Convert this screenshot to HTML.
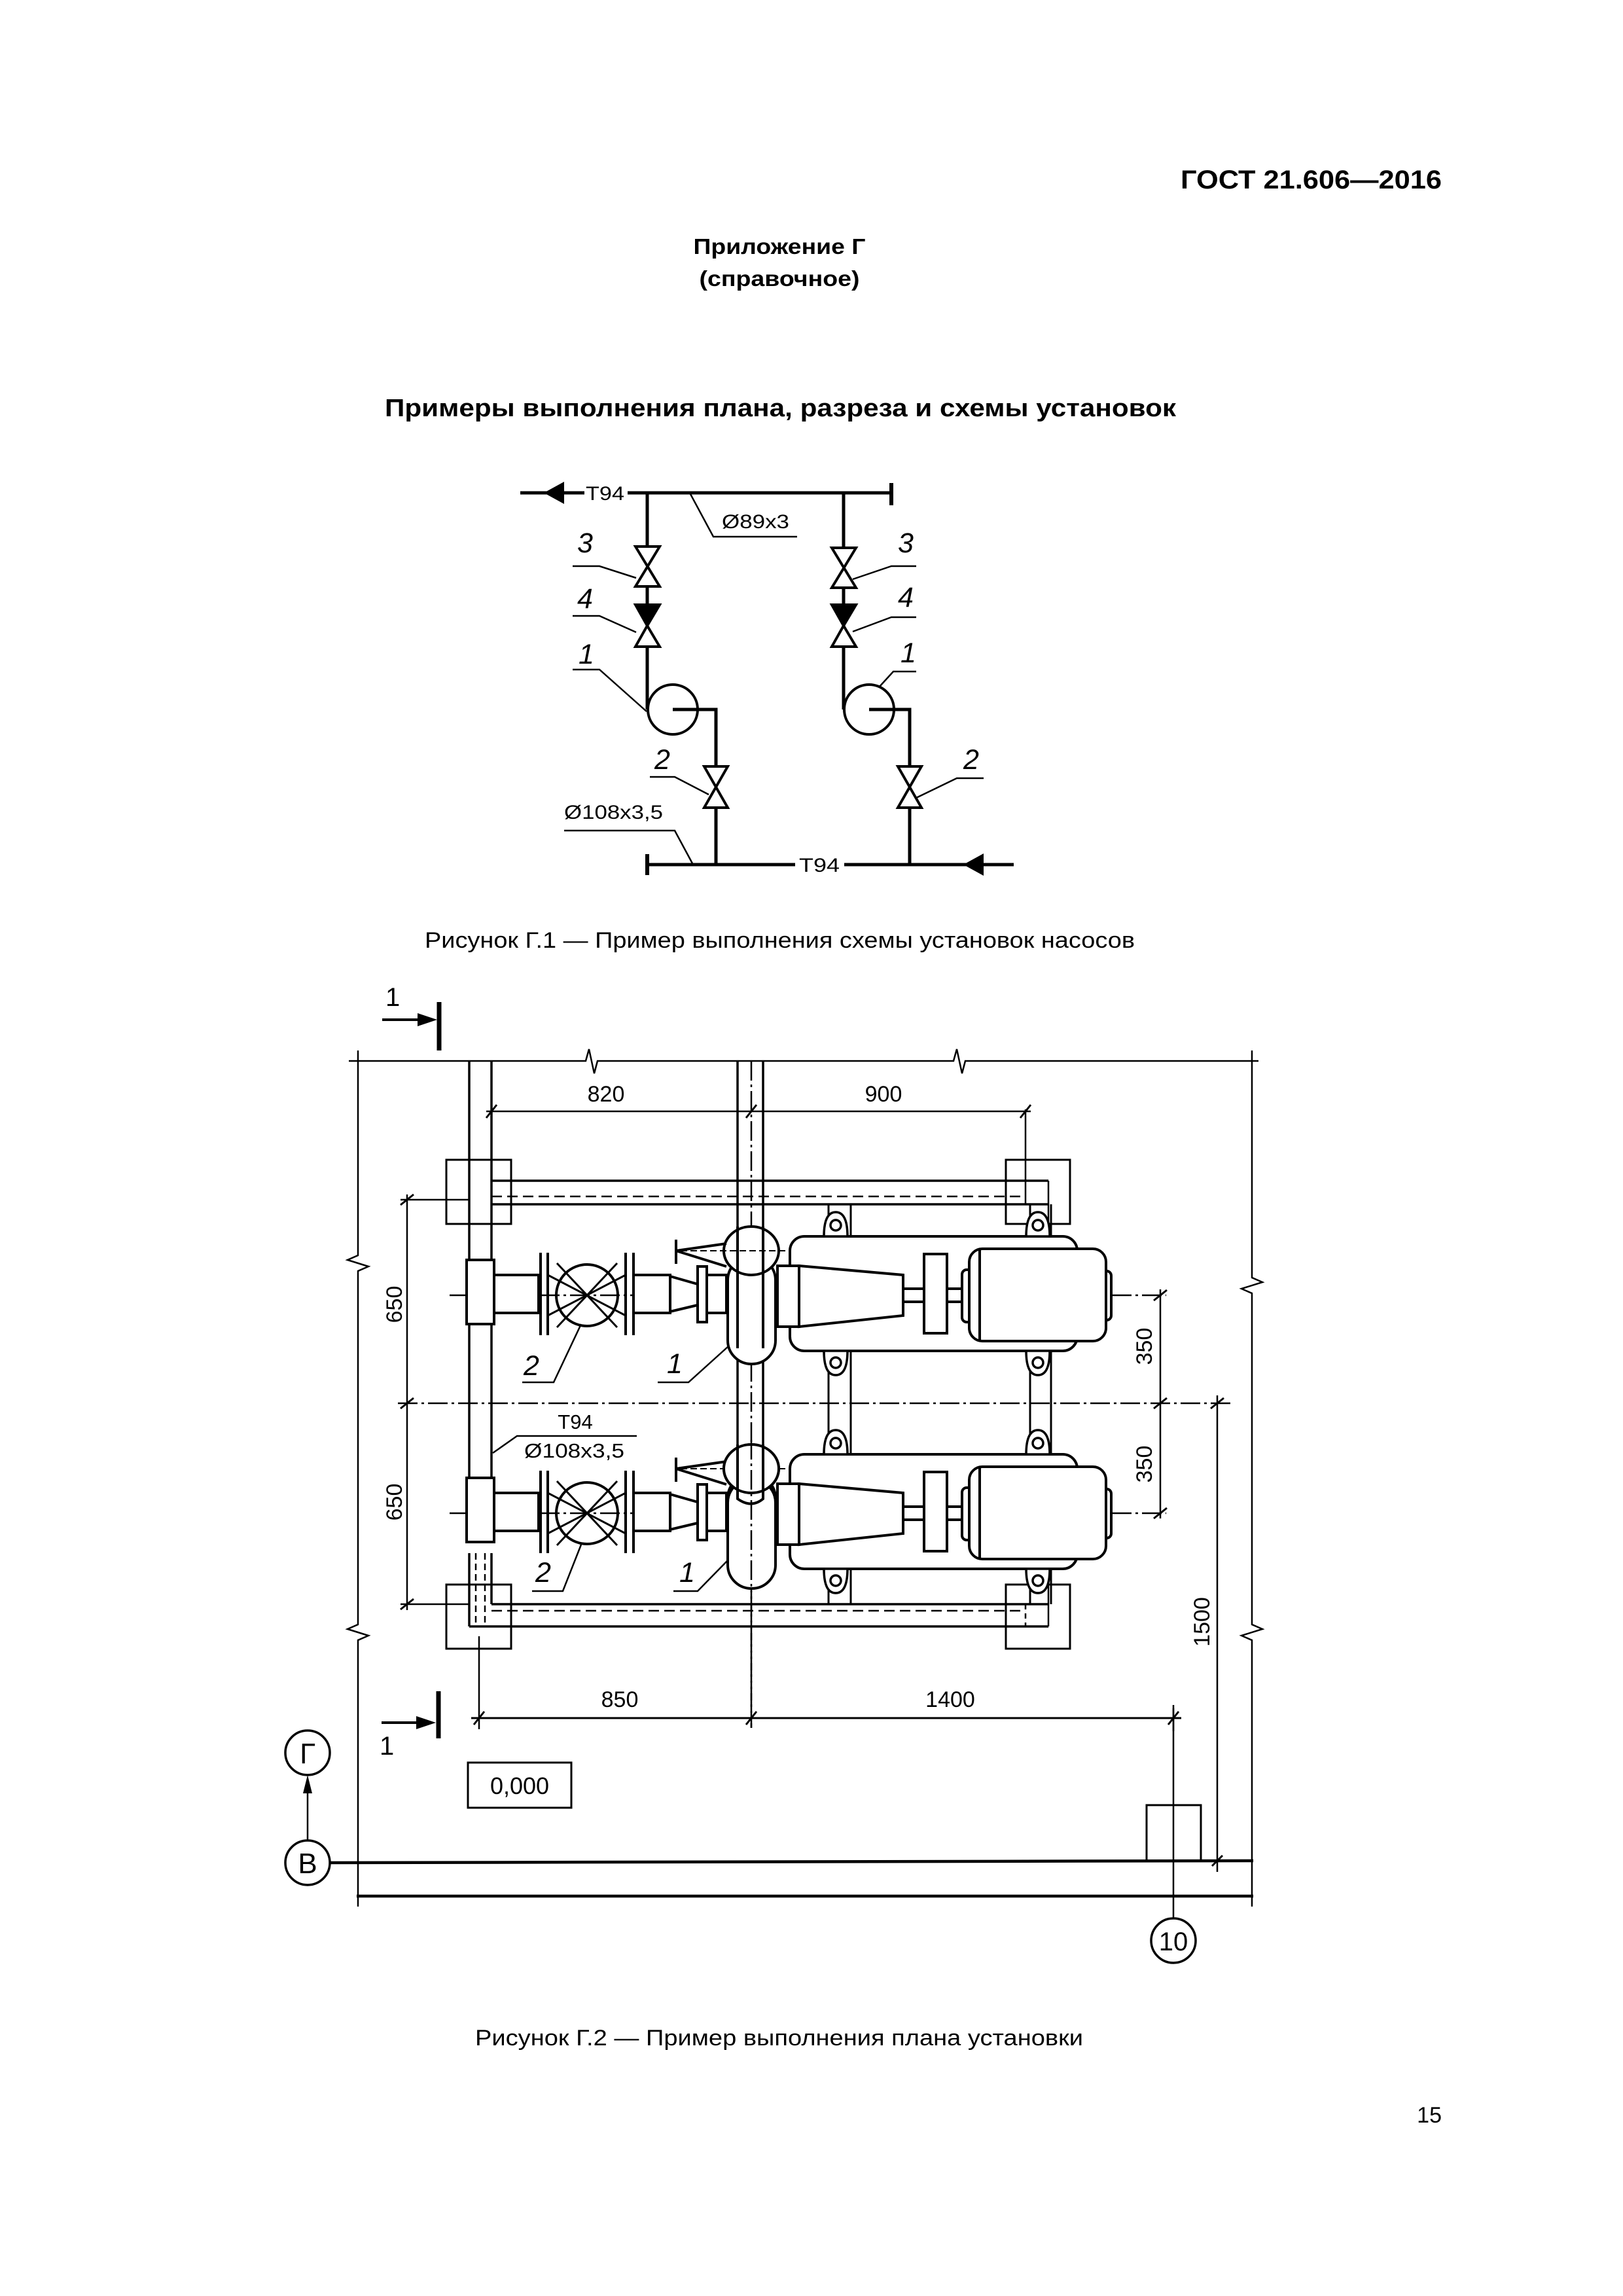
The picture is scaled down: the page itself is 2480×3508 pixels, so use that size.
<!DOCTYPE html>
<html><head><meta charset="utf-8"><style>
html,body{margin:0;padding:0;background:#fff}
svg{display:block}
text{font-family:"Liberation Sans",sans-serif;fill:#000}
</style></head><body>
<svg width="2480" height="3508" viewBox="0 0 2480 3508" xmlns="http://www.w3.org/2000/svg">
<!-- Header -->
<text x="2203" y="288" font-size="40" font-weight="bold" text-anchor="end" textLength="399" lengthAdjust="spacingAndGlyphs">ГОСТ 21.606—2016</text>
<text x="1191" y="388" font-size="33" font-weight="bold" text-anchor="middle" textLength="263" lengthAdjust="spacingAndGlyphs">Приложение Г</text>
<text x="1191" y="437" font-size="33" font-weight="bold" text-anchor="middle" textLength="245" lengthAdjust="spacingAndGlyphs">(справочное)</text>
<text x="588" y="636" font-size="38" font-weight="bold" textLength="1209" lengthAdjust="spacingAndGlyphs">Примеры выполнения плана, разреза и схемы установок</text>

<!-- Figure G.1 -->
<g stroke="#000" fill="none" stroke-width="5">
 <line x1="795" y1="753" x2="893" y2="753"/>
 <line x1="959" y1="753" x2="1362" y2="753"/>
 <line x1="1362" y1="738" x2="1362" y2="772" stroke-width="6"/>
 <line x1="989" y1="753" x2="989" y2="835"/>
 <line x1="989" y1="896" x2="989" y2="924"/>
 <line x1="989" y1="988" x2="989" y2="1084"/>
 <line x1="1289" y1="753" x2="1289" y2="837"/>
 <line x1="1289" y1="898" x2="1289" y2="924"/>
 <line x1="1289" y1="988" x2="1289" y2="1084"/>
 <circle cx="1028" cy="1084" r="38" stroke-width="4"/>
 <circle cx="1328" cy="1084" r="38" stroke-width="4"/>
 <polyline points="1028,1084 1094,1084 1094,1171"/>
 <polyline points="1328,1084 1390,1084 1390,1171"/>
 <line x1="1094" y1="1234" x2="1094" y2="1321"/>
 <line x1="1390" y1="1234" x2="1390" y2="1321"/>
 <line x1="989" y1="1321" x2="1215" y2="1321"/>
 <line x1="1290" y1="1321" x2="1549" y2="1321"/>
 <line x1="989" y1="1305" x2="989" y2="1337" stroke-width="6"/>
</g>
<polygon points="831,753 862,736 862,770" fill="#000"/>
<polygon points="1472,1321 1503,1304 1503,1338" fill="#000"/>
<g stroke="#000" stroke-width="4" fill="#fff" stroke-linejoin="miter">
 <polygon points="971,835 1008,835 971,896 1008,896"/>
 <polygon points="971,924 1008,924 989,956" fill="#000"/>
 <polygon points="989,956 971,988 1008,988"/>
 <polygon points="1271,837 1308,837 1271,898 1308,898"/>
 <polygon points="1271,924 1308,924 1289,956" fill="#000"/>
 <polygon points="1289,956 1271,988 1308,988"/>
 <polygon points="1076,1171 1112,1171 1076,1234 1112,1234"/>
 <polygon points="1372,1171 1408,1171 1372,1234 1408,1234"/>
</g>
<g stroke="#000" stroke-width="2.5" fill="none">
 <polyline points="1054,753 1090,820 1218,820"/>
 <polyline points="875,865 916,865 972,883"/>
 <polyline points="875,941 916,941 972,966"/>
 <polyline points="875,1023 916,1023 988,1087"/>
 <polyline points="993,1187 1031,1187 1083,1214"/>
 <polyline points="1400,865 1362,865 1303,885"/>
 <polyline points="1400,943 1362,943 1303,965"/>
 <polyline points="1400,1026 1365,1026 1344,1049"/>
 <polyline points="1503,1189 1462,1189 1400,1219"/>
 <polyline points="862,1269 1031,1269 1059,1321"/>
</g>
<g font-size="30">
 <text x="895" y="764" textLength="59" lengthAdjust="spacingAndGlyphs">Т94</text>
 <text x="1221" y="1332" textLength="62" lengthAdjust="spacingAndGlyphs">Т94</text>
 <text x="1103" y="807" textLength="103" lengthAdjust="spacingAndGlyphs">Ø89x3</text>
 <text x="862" y="1251" textLength="151" lengthAdjust="spacingAndGlyphs">Ø108x3,5</text>
</g>
<g font-size="43" font-style="italic">
 <text x="882" y="844">3</text><text x="882" y="929">4</text><text x="884" y="1014">1</text>
 <text x="1000" y="1175">2</text>
 <text x="1372" y="844">3</text><text x="1372" y="927">4</text><text x="1376" y="1012">1</text>
 <text x="1472" y="1175">2</text>
</g>
<text x="649" y="1448" font-size="34" textLength="1085" lengthAdjust="spacingAndGlyphs">Рисунок Г.1 — Пример выполнения схемы установок насосов</text>

<!-- Figure G.2 -->
<text x="589" y="1537" font-size="40">1</text>
<line x1="584" y1="1558" x2="640" y2="1558" stroke="#000" stroke-width="4"/>
<polygon points="668,1558 638,1548 638,1568" fill="#000"/>
<line x1="671" y1="1531" x2="671" y2="1605" stroke="#000" stroke-width="7"/>
<line x1="583" y1="2632" x2="640" y2="2632" stroke="#000" stroke-width="4"/>
<polygon points="666,2632 636,2622 636,2642" fill="#000"/>
<line x1="670" y1="2584" x2="670" y2="2656" stroke="#000" stroke-width="7"/>
<text x="580" y="2681" font-size="40">1</text>

<g stroke="#000" fill="none" stroke-width="2.5">
 <polyline points="533,1621 895,1621 900,1603 908,1640 913,1621 1457,1621 1462,1603 1470,1640 1475,1621 1923,1621"/>
 <polyline points="547,1605 547,1918 531,1925 563,1935 547,1942 547,2482 531,2489 563,2499 547,2506 547,2913"/>
 <polyline points="1913,1605 1913,1952 1929,1959 1897,1969 1913,1976 1913,2482 1929,2489 1897,2499 1913,2506 1913,2913"/>
 <line x1="545" y1="2897" x2="1915" y2="2897" stroke-width="4.5"/>
 <line x1="504" y1="2846" x2="1915" y2="2843" stroke-width="4.5"/>
 <circle cx="470" cy="2678" r="34" stroke-width="3.5"/>
 <circle cx="470" cy="2846" r="34" stroke-width="3.5"/>
 <line x1="470" y1="2812" x2="470" y2="2725"/>
 <circle cx="1793" cy="2965" r="34" stroke-width="3.5"/>
 <line x1="1793" y1="2931" x2="1793" y2="2605"/>
 <rect x="1752" y="2758" width="83" height="85" stroke-width="3"/>
 <rect x="715" y="2693" width="158" height="69" stroke-width="3"/>
 <line x1="720" y1="2625" x2="1805" y2="2625" stroke-width="3"/>
 <line x1="732" y1="2500" x2="732" y2="2642"/>
 <line x1="1793" y1="2610" x2="1793" y2="2645"/>
 <line x1="1860" y1="2132" x2="1860" y2="2860"/>
 <line x1="751" y1="1804" x2="1602" y2="1804" stroke-width="3.5"/>
 <line x1="751" y1="1840" x2="1602" y2="1840" stroke-width="3.5"/>
 <line x1="751" y1="1828" x2="1567" y2="1828" stroke-dasharray="16,8"/>
 <line x1="751" y1="2451" x2="1602" y2="2451" stroke-width="3.5"/>
 <line x1="717" y1="2485" x2="1602" y2="2485" stroke-width="3.5"/>
 <line x1="751" y1="2461" x2="1567" y2="2461" stroke-dasharray="16,8"/>
 <rect x="682" y="1772" width="99" height="98" stroke-width="3"/>
 <rect x="1537" y="1772" width="98" height="98" stroke-width="3"/>
 <rect x="682" y="2421" width="99" height="98" stroke-width="3"/>
 <rect x="1537" y="2421" width="98" height="98" stroke-width="3"/>
 <line x1="1567" y1="1695" x2="1567" y2="1840"/>
 <line x1="1567" y1="2451" x2="1567" y2="2485" stroke-dasharray="8,6"/>
 <line x1="1602" y1="1804" x2="1602" y2="1870"/>
 <line x1="1602" y1="2421" x2="1602" y2="2485"/>
 <line x1="717" y1="1621" x2="717" y2="1925" stroke-width="3.5"/>
 <line x1="751" y1="1621" x2="751" y2="1925" stroke-width="3.5"/>
 <line x1="717" y1="2023" x2="717" y2="2261" stroke-width="3.5"/>
 <line x1="751" y1="2023" x2="751" y2="2261" stroke-width="3.5"/>
 <line x1="717" y1="2373" x2="717" y2="2485" stroke-width="3.5"/>
 <line x1="727" y1="2373" x2="727" y2="2485" stroke-dasharray="10,6"/>
 <line x1="741" y1="2373" x2="741" y2="2485" stroke-dasharray="10,6"/>
 <line x1="751" y1="2373" x2="751" y2="2451" stroke-width="3.5"/>
 <line x1="1127" y1="1621" x2="1127" y2="2290" stroke-width="3.5"/>
 <line x1="1166" y1="1621" x2="1166" y2="2290" stroke-width="3.5"/>
 <line x1="1148" y1="1621" x2="1148" y2="2640" stroke-dasharray="30,6,4,6"/>
 <line x1="743" y1="1698" x2="1575" y2="1698"/>
 <line x1="622" y1="1825" x2="622" y2="2460"/>
 <line x1="612" y1="1833" x2="717" y2="1833"/>
 <line x1="612" y1="2451" x2="717" y2="2451"/>
 <line x1="608" y1="2144" x2="1880" y2="2144" stroke-dasharray="30,6,4,6"/>
 <line x1="1773" y1="1970" x2="1773" y2="2320"/>
 <line x1="687" y1="1979" x2="1782" y2="1979" stroke-dasharray="30,6,4,6"/>
 <line x1="687" y1="2312" x2="1782" y2="2312" stroke-dasharray="30,6,4,6"/>
 <g stroke-width="3">
  <line x1="743" y1="1708" x2="759" y2="1688"/><line x1="1140" y1="1708" x2="1156" y2="1688"/><line x1="1559" y1="1708" x2="1575" y2="1688"/>
  <line x1="612" y1="1841" x2="632" y2="1825"/><line x1="612" y1="2152" x2="632" y2="2136"/><line x1="612" y1="2459" x2="632" y2="2443"/>
  <line x1="1763" y1="1987" x2="1783" y2="1971"/><line x1="1763" y1="2152" x2="1783" y2="2136"/><line x1="1763" y1="2320" x2="1783" y2="2304"/>
  <line x1="1850" y1="2152" x2="1870" y2="2136"/><line x1="1852" y1="2851" x2="1868" y2="2835"/>
  <line x1="724" y1="2635" x2="740" y2="2615"/><line x1="1140" y1="2635" x2="1156" y2="2615"/><line x1="1785" y1="2635" x2="1801" y2="2615"/>
 </g>
 <line x1="1266" y1="1840" x2="1266" y2="2451" stroke-width="3"/>
 <line x1="1300" y1="1840" x2="1300" y2="2451" stroke-width="3"/>
 <line x1="1574" y1="1840" x2="1574" y2="2451" stroke-width="3"/>
 <line x1="1606" y1="1840" x2="1606" y2="2451" stroke-width="3"/>
</g>
<polygon points="470,2712 463,2740 477,2740" fill="#000"/>

<defs>
<g id="unit">
 <g stroke="#000" stroke-width="4" fill="#fff">
  <rect x="1207" y="1889" width="439" height="175" rx="22"/>
  <rect x="713" y="1925" width="42" height="98"/>
  <rect x="755" y="1948" width="68" height="58"/>
  <rect x="968" y="1948" width="56" height="58"/>
  <polygon points="1024,1950 1066,1962 1066,1994 1024,2004"/>
  <rect x="1066" y="1935" width="14" height="85"/>
  <rect x="1080" y="1948" width="30" height="58"/>
  <rect x="1188" y="1934" width="33" height="93"/>
  <polygon points="1221,1934 1380,1948 1380,2010 1221,2027"/>
  <rect x="1380" y="1969" width="32" height="20"/>
  <rect x="1412" y="1916" width="35" height="121"/>
  <rect x="1447" y="1969" width="34" height="20"/>
  <rect x="1470" y="1940" width="16" height="80" rx="7"/>
  <rect x="1682" y="1942" width="16" height="75" rx="7"/>
  <rect x="1481" y="1908" width="209" height="141" rx="20"/>
  <line x1="1497" y1="1910" x2="1497" y2="2047"/>
  <line x1="826" y1="1914" x2="826" y2="2040"/><line x1="837" y1="1914" x2="837" y2="2040"/>
  <line x1="956" y1="1914" x2="956" y2="2040"/><line x1="968" y1="1914" x2="968" y2="2040"/>
  <line x1="837" y1="1948" x2="956" y2="2010" stroke-width="3"/><line x1="837" y1="2010" x2="956" y2="1948" stroke-width="3"/>
  <circle cx="897" cy="1979" r="47" fill="none"/>
  <line x1="851" y1="1930" x2="943" y2="2028" stroke-width="3"/><line x1="851" y1="2028" x2="943" y2="1930" stroke-width="3"/>
  <rect x="1112" y="1920" width="73" height="164" rx="36"/>
  <ellipse cx="1148" cy="1911" rx="42" ry="37"/>
  <line x1="1127" y1="1874" x2="1127" y2="2060"/><line x1="1166" y1="1874" x2="1166" y2="2060"/>
  <polyline points="1110,1900 1033,1911 1110,1935" fill="none"/>
  <line x1="1033" y1="1894" x2="1033" y2="1931"/>
 </g>
 <line x1="1040" y1="1911" x2="1200" y2="1911" stroke="#000" stroke-width="2" stroke-dasharray="10,5"/>
 <g stroke="#000" stroke-width="3.5" fill="#fff">
  <path d="M1259,1889 Q1259,1852 1277,1852 Q1295,1852 1295,1889 Z"/>
  <path d="M1568,1889 Q1568,1852 1586,1852 Q1604,1852 1604,1889 Z"/>
  <path d="M1259,2064 Q1259,2101 1277,2101 Q1295,2101 1295,2064 Z"/>
  <path d="M1568,2064 Q1568,2101 1586,2101 Q1604,2101 1604,2064 Z"/>
  <circle cx="1277" cy="1872" r="8"/><circle cx="1586" cy="1872" r="8"/>
  <circle cx="1277" cy="2082" r="8"/><circle cx="1586" cy="2082" r="8"/>
 </g>
</g>
</defs>
<use href="#unit"/>
<use href="#unit" transform="translate(0,333)"/>
<rect x="1112" y="2260" width="73" height="167" rx="36" stroke="#000" stroke-width="4" fill="#fff"/>
<g stroke="#000" stroke-width="4" fill="#fff">
 <ellipse cx="1148" cy="2244" rx="42" ry="37"/>
 <path d="M1127,2207 L1127,2290 Q1148,2305 1166,2290 L1166,2207" fill="none"/>
</g>
<line x1="1148" y1="2200" x2="1148" y2="2640" stroke="#000" stroke-width="2.5" stroke-dasharray="30,6,4,6"/>

<g stroke="#000" stroke-width="2.5" fill="none">
 <polyline points="798,2112 846,2112 888,2023"/>
 <polyline points="1005,2112 1052,2112 1113,2057"/>
 <polyline points="813,2431 860,2431 888,2360"/>
 <polyline points="1029,2431 1066,2431 1113,2383"/>
 <polyline points="753,2220 790,2194 973,2194"/>
</g>
<g font-size="43" font-style="italic">
 <text x="800" y="2101">2</text><text x="1019" y="2098">1</text>
 <text x="818" y="2417">2</text><text x="1038" y="2417">1</text>
</g>
<g font-size="34">
 <text x="879" y="2183" text-anchor="middle" font-size="31">Т94</text>
 <text x="801" y="2227" font-size="31" textLength="153" lengthAdjust="spacingAndGlyphs">Ø108x3,5</text>
 <text x="926" y="1683" text-anchor="middle">820</text>
 <text x="1350" y="1683" text-anchor="middle">900</text>
 <text x="947" y="2608" text-anchor="middle">850</text>
 <text x="1452" y="2608" text-anchor="middle">1400</text>
 <text x="794" y="2741" text-anchor="middle" font-size="36">0,000</text>
 <text transform="translate(614,1993) rotate(-90)" text-anchor="middle">650</text>
 <text transform="translate(614,2295) rotate(-90)" text-anchor="middle">650</text>
 <text transform="translate(1760,2057) rotate(-90)" text-anchor="middle">350</text>
 <text transform="translate(1760,2237) rotate(-90)" text-anchor="middle">350</text>
 <text transform="translate(1848,2478) rotate(-90)" text-anchor="middle">1500</text>
</g>
<g font-size="44" text-anchor="middle">
 <text x="470" y="2694">Г</text>
 <text x="470" y="2862">В</text>
 <text x="1793" y="2980" font-size="40">10</text>
</g>

<text x="726" y="3125" font-size="34" textLength="929" lengthAdjust="spacingAndGlyphs">Рисунок Г.2 — Пример выполнения плана установки</text>
<text x="2203" y="3243" font-size="34" text-anchor="end">15</text>
</svg>
</body></html>
